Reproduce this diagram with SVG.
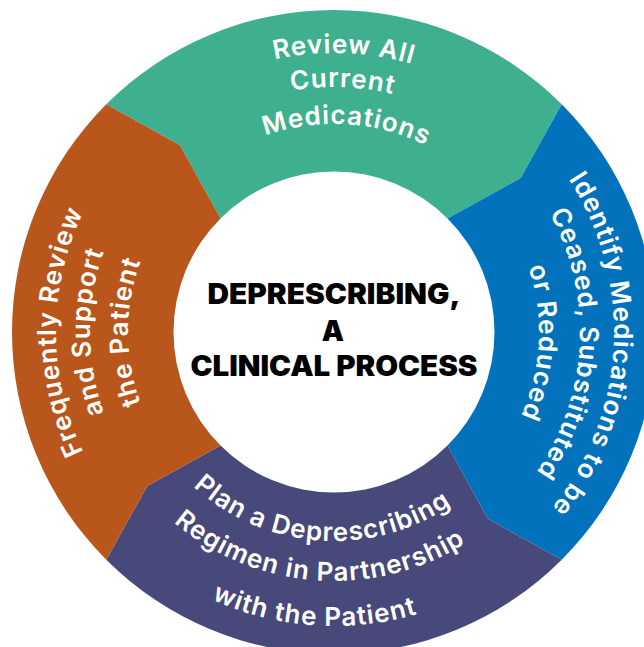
<svg xmlns="http://www.w3.org/2000/svg" xmlns:xlink="http://www.w3.org/1999/xlink" width="644" height="647" viewBox="0 0 644 647">
<style>
.ring{font-family:Inter,"Noto Sans","Liberation Sans",sans-serif;font-weight:600;font-size:26px;letter-spacing:1px;fill:#ffffff;}
.ctr{font-family:Inter,"Liberation Sans",sans-serif;font-weight:900;font-size:28px;fill:#000000;text-anchor:middle;}
</style>
<defs>
<path id="t1" d="M57.08,298 A279,279 0 0 1 612.62,317.4"/>
<path id="t2" d="M90.83,302.14 A245,245 0 0 1 578.66,319.18"/>
<path id="t3" d="M128.28,301.26 A208,208 0 0 1 541.93,326.55"/>
<path id="r1" d="M372.97,54.72 A280,280 0 0 1 343.77,611.83"/>
<path id="r2" d="M368.24,88.39 A246,246 0 0 1 342.59,577.85"/>
<path id="r3" d="M362.53,128.99 A205,205 0 0 1 341.15,536.87"/>
<path id="b1" d="M125.03,335.65 A209,209 0 0 0 540.43,364.69"/>
<path id="b2" d="M85.04,336.35 A249,249 0 0 0 579.93,370.95"/>
<path id="b3" d="M40.04,337.13 A294,294 0 0 0 624.38,377.99"/>
<path id="l1" d="M309.77,608.94 A278,278 0 0 1 309.77,55.06"/>
<path id="l2" d="M312.73,575.07 A244,244 0 0 1 312.73,88.93"/>
<path id="l3" d="M316.05,537.22 A206,206 0 0 1 316.05,126.78"/>
</defs>
<rect width="644" height="647" fill="#ffffff"/>
<g id="review">
<path fill="#3FB08F" d="M106.31,104.31 A322,322 0 0 1 561.69,104.31 L520.73,178.07 L447.49,218.51 A160.5,160.5 0 0 0 220.51,218.51 L180.07,145.27 Z"/>
<text class="ring"><textPath href="#t1" xlink:href="#t1" startOffset="50%" text-anchor="middle">Review All</textPath></text>
<text class="ring"><textPath href="#t2" xlink:href="#t2" startOffset="50%" text-anchor="middle">Current</textPath></text>
<text class="ring"><textPath href="#t3" xlink:href="#t3" startOffset="50%" text-anchor="middle">Medications</textPath></text>
</g>
<g id="identify">
<path fill="#0172BB" d="M561.69,104.31 A322,322 0 0 1 561.69,559.69 L487.93,518.73 L447.49,445.49 A160.5,160.5 0 0 0 447.49,218.51 L520.73,178.07 Z"/>
<text class="ring"><textPath href="#r1" xlink:href="#r1" startOffset="50%" text-anchor="middle">Identify Medications to be</textPath></text>
<text class="ring"><textPath href="#r2" xlink:href="#r2" startOffset="50%" text-anchor="middle">Ceased, Substituted</textPath></text>
<text class="ring"><textPath href="#r3" xlink:href="#r3" startOffset="50%" text-anchor="middle">or Reduced</textPath></text>
</g>
<g id="plan">
<path fill="#46497A" d="M561.69,559.69 A322,322 0 0 1 106.31,559.69 L147.27,485.93 L220.51,445.49 A160.5,160.5 0 0 0 447.49,445.49 L487.93,518.73 Z"/>
<text class="ring"><textPath href="#b1" xlink:href="#b1" startOffset="50%" text-anchor="middle">Plan a Deprescribing</textPath></text>
<text class="ring"><textPath href="#b2" xlink:href="#b2" startOffset="50%" text-anchor="middle">Regimen in Partnership</textPath></text>
<text class="ring"><textPath href="#b3" xlink:href="#b3" startOffset="50%" text-anchor="middle">with the Patient</textPath></text>
</g>
<g id="support">
<path fill="#B9561B" d="M106.31,559.69 A322,322 0 0 1 106.31,104.31 L180.07,145.27 L220.51,218.51 A160.5,160.5 0 0 0 220.51,445.49 L147.27,485.93 Z"/>
<text class="ring"><textPath href="#l1" xlink:href="#l1" startOffset="50%" text-anchor="middle">Frequently Review</textPath></text>
<text class="ring"><textPath href="#l2" xlink:href="#l2" startOffset="50%" text-anchor="middle">and Support</textPath></text>
<text class="ring"><textPath href="#l3" xlink:href="#l3" startOffset="50%" text-anchor="middle">the Patient</textPath></text>
</g>
<g id="center">
<text class="ctr" x="334" y="304" textLength="253" lengthAdjust="spacingAndGlyphs">DEPRESCRIBING,</text>
<text class="ctr" x="333" y="341">A</text>
<text class="ctr" x="334" y="376" textLength="287" lengthAdjust="spacingAndGlyphs">CLINICAL PROCESS</text>
</g>
</svg>
